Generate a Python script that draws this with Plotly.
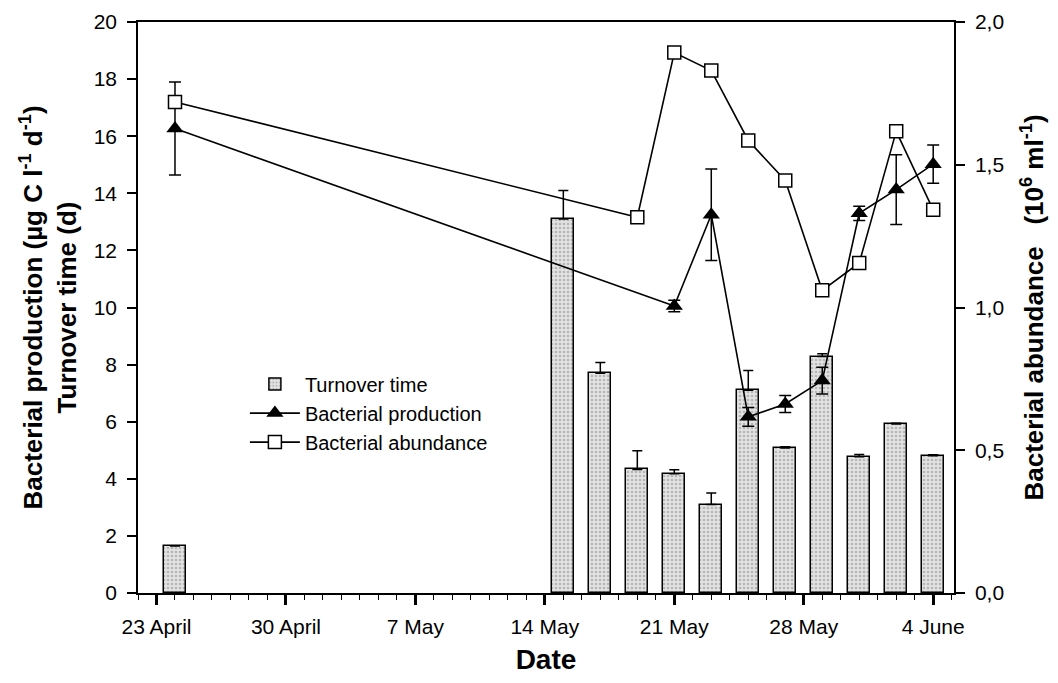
import plotly.graph_objects as go

# Turnover time (bars, left axis)
turn_dates = ["1998-04-24", "1998-05-15", "1998-05-17", "1998-05-19", "1998-05-21", "1998-05-23",
              "1998-05-25", "1998-05-27", "1998-05-29", "1998-05-31", "1998-06-02", "1998-06-04"]
turn_vals = [1.65, 13.1, 7.7, 4.33, 4.18, 3.1, 7.1, 5.08, 8.28, 4.77, 5.92, 4.81]
turn_err = [0, 1.0, 0.37, 0.65, 0.14, 0.4, 0.69, 0.04, 0.1, 0.08, 0.03, 0.03]

# Bacterial production (triangles, left axis)
prod_dates = ["1998-04-24", "1998-05-21", "1998-05-23", "1998-05-25", "1998-05-27",
              "1998-05-29", "1998-05-31", "1998-06-02", "1998-06-04"]
prod_vals = [16.27, 10.05, 13.25, 6.17, 6.62, 7.44, 13.3, 14.13, 15.02]
prod_err = [1.63, 0.2, 1.6, 0.33, 0.3, 0.47, 0.25, 1.22, 0.67]

# Bacterial abundance (squares, right axis)
abund_dates = ["1998-04-24", "1998-05-19", "1998-05-21", "1998-05-23", "1998-05-25",
               "1998-05-27", "1998-05-29", "1998-05-31", "1998-06-02", "1998-06-04"]
abund_vals = [1.72, 1.316, 1.893, 1.83, 1.585, 1.445, 1.06, 1.156, 1.617, 1.342]

tick_dates = ["1998-04-23", "1998-04-30", "1998-05-07", "1998-05-14", "1998-05-21", "1998-05-28", "1998-06-04"]
tick_labels = ["23 April", "30 April", "7 May", "14 May", "21 May", "28 May", "4 June"]

DAY = 86400000
FONT = "Arial, Liberation Sans, sans-serif"

fig = go.Figure()
fig.add_trace(go.Bar(
    x=turn_dates, y=turn_vals, name="Turnover time", width=1.2 * DAY,
    marker=dict(color="#d9d9d9", line=dict(color="black", width=1.5),
                pattern=dict(shape=".", fgcolor="#8a8a8a", bgcolor="#e2e2e2", size=4, solidity=0.35)),
    error_y=dict(type="data", array=turn_err, symmetric=False, arrayminus=[0] * len(turn_err),
                 color="black", thickness=1.5, width=5),
))
fig.add_trace(go.Scatter(
    x=prod_dates, y=prod_vals, name="Bacterial production", mode="lines+markers",
    line=dict(color="black", width=1.6),
    marker=dict(symbol="triangle-up", size=15, color="black"),
    error_y=dict(type="data", array=prod_err, color="black", thickness=1.5, width=6),
))
fig.add_trace(go.Scatter(
    x=abund_dates, y=abund_vals, name="Bacterial abundance", mode="lines+markers", yaxis="y2",
    line=dict(color="black", width=1.6),
    marker=dict(symbol="square", size=13, color="white", line=dict(color="black", width=1.5)),
))

fig.update_layout(
    width=1058, height=683,
    margin=dict(l=138, r=104, t=22, b=90),
    paper_bgcolor="white", plot_bgcolor="white",
    separators=",.",
    font=dict(family=FONT, size=21, color="black"),
    showlegend=True,
    legend=dict(x=0.131, y=0.40, xanchor="left", yanchor="top", bgcolor="rgba(0,0,0,0)",
                font=dict(size=20, family=FONT), traceorder="normal", tracegroupgap=0,
                itemwidth=50),
    bargap=0,
    xaxis=dict(
        type="date", range=["1998-04-22", "1998-06-05 03:00"], automargin=False,
        tickvals=tick_dates, ticktext=tick_labels, tickangle=0,
        ticks="outside", ticklen=10, tickwidth=2.5, tickcolor="black",
        minor=dict(dtick=DAY, ticks="outside", ticklen=5, tickwidth=1.2, tickcolor="black"),
        showline=True, linecolor="black", linewidth=1.5, mirror=True,
        showgrid=False, zeroline=False,
        tickfont=dict(size=21, family=FONT), ticklabelstandoff=4,
        title=dict(text="Date", font=dict(size=28, family=FONT, weight="bold"), standoff=12),
    ),
    yaxis=dict(
        range=[0, 20], dtick=2, ticks="outside", ticklen=9, tickwidth=1.5, tickcolor="black",
        showline=True, linecolor="black", linewidth=1.5, automargin=False,
        showgrid=False, zeroline=False, tickfont=dict(size=21, family=FONT),
        ticklabelstandoff=6,
        title=dict(text="Bacterial production (µg C l<sup>-1</sup> d<sup>-1</sup>)<br>Turnover time (d)",
                   font=dict(size=26, family=FONT, weight="bold"), standoff=10),
    ),
    yaxis2=dict(
        range=[0, 2], dtick=0.5, tickformat=".1f", overlaying="y", side="right", automargin=False,
        ticks="outside", ticklen=9, tickwidth=1.5, tickcolor="black",
        showline=True, linecolor="black", linewidth=1.5,
        showgrid=False, zeroline=False, tickfont=dict(size=21, family=FONT),
        ticklabelstandoff=6,
        title=dict(text="Bacterial abundance   (10<sup>6</sup> ml<sup>-1</sup>)",
                   font=dict(size=26, family=FONT, weight="bold"), standoff=22),
    ),
)

fig.write_html("out.html", config={"displayModeBar": False},
               post_script="document.body.style.margin='0px';")
